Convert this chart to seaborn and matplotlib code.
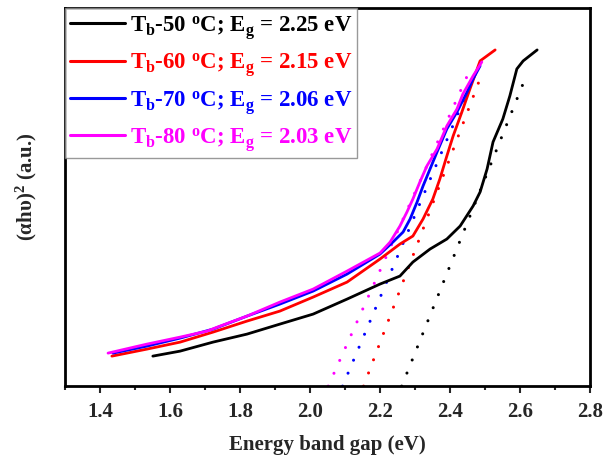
import matplotlib
matplotlib.use("Agg")
import matplotlib.pyplot as plt
import numpy as np
import pandas as pd
import seaborn as sns

# curves, y in arbitrary units
x_50 = [1.551, 1.629, 1.723, 1.820, 1.914, 2.009, 2.106, 2.200, 2.257, 2.294, 2.343,
        2.391, 2.429, 2.466, 2.486, 2.506, 2.523, 2.551, 2.571, 2.591, 2.609, 2.649]
y_50 = [0.30, 0.35, 0.44, 0.52, 0.62, 0.72, 0.87, 1.02, 1.10, 1.24, 1.37,
        1.47, 1.60, 1.80, 1.94, 2.17, 2.44, 2.67, 2.90, 3.17, 3.25, 3.36]

x_60 = [1.434, 1.534, 1.629, 1.723, 1.820, 1.914, 2.009, 2.106, 2.200, 2.257,
        2.294, 2.323, 2.351, 2.371, 2.391, 2.409, 2.434, 2.457, 2.486, 2.529]
y_60 = [0.30, 0.37, 0.44, 0.54, 0.65, 0.75, 0.89, 1.04, 1.27, 1.42,
        1.50, 1.67, 1.87, 2.07, 2.30, 2.50, 2.74, 2.97, 3.25, 3.36]

x_70 = [1.437, 1.534, 1.629, 1.723, 1.820, 1.914, 2.009, 2.106, 2.200, 2.237, 2.266,
        2.286, 2.306, 2.323, 2.343, 2.363, 2.391, 2.420, 2.449, 2.466, 2.486]
y_70 = [0.33, 0.40, 0.48, 0.57, 0.70, 0.82, 0.95, 1.12, 1.32, 1.44, 1.54,
        1.67, 1.84, 2.00, 2.17, 2.34, 2.57, 2.74, 2.94, 3.07, 3.20]

x_80 = [1.423, 1.534, 1.629, 1.706, 1.743, 1.820, 1.914, 2.009, 2.106, 2.200, 2.229,
        2.257, 2.277, 2.294, 2.314, 2.334, 2.363, 2.391, 2.420, 2.437, 2.466, 2.491]
y_80 = [0.33, 0.42, 0.49, 0.55, 0.60, 0.70, 0.84, 0.97, 1.15, 1.33, 1.44,
        1.60, 1.74, 1.87, 2.04, 2.20, 2.37, 2.60, 2.77, 2.92, 3.10, 3.24]

labels = [
    r"T$_\mathregular{b}$-50 $^\mathregular{o}$C; E$_\mathregular{g}$ = 2.25 eV",
    r"T$_\mathregular{b}$-60 $^\mathregular{o}$C; E$_\mathregular{g}$ = 2.15 eV",
    r"T$_\mathregular{b}$-70 $^\mathregular{o}$C; E$_\mathregular{g}$ = 2.06 eV",
    r"T$_\mathregular{b}$-80 $^\mathregular{o}$C; E$_\mathregular{g}$ = 2.03 eV",
]
colors = ["black", "red", "blue", "magenta"]

# tangent (Tauc) fits: x-intercept and upper end point
fit_x0 = [2.262, 2.153, 2.093, 2.052]
fit_x1 = [2.620, 2.491, 2.477, 2.462]
fit_y1 = [3.12, 3.12, 3.17, 3.20]

sns.set_theme(style="ticks")
plt.rcParams["font.family"] = ["Liberation Serif", "DejaVu Serif"]
plt.rcParams["font.weight"] = "bold"
plt.rcParams["mathtext.fontset"] = "custom"
plt.rcParams["mathtext.rm"] = "Liberation Serif:bold"
plt.rcParams["mathtext.it"] = "Liberation Serif:bold"
plt.rcParams["mathtext.bf"] = "Liberation Serif:bold"

curves = pd.concat(
    [
        pd.DataFrame({"x": xs, "y": ys, "series": lab})
        for xs, ys, lab in zip([x_50, x_60, x_70, x_80], [y_50, y_60, y_70, y_80], labels)
    ],
    ignore_index=True,
)
fits = pd.concat(
    [
        pd.DataFrame({"x": [a, b], "y": [0.0, c], "series": lab})
        for a, b, c, lab in zip(fit_x0, fit_x1, fit_y1, labels)
    ],
    ignore_index=True,
)
palette = dict(zip(labels, colors))

fig = plt.figure(figsize=(6.05, 4.56), dpi=100)
ax = fig.add_axes([0.1074, 0.151, 0.8678, 0.8295])

sns.lineplot(data=fits, x="x", y="y", hue="series", palette=palette, ax=ax,
             legend=False, linewidth=2.2, sort=False)
for line in ax.get_lines():
    line.set_linestyle((0, (0.01, 4.6)))
    line.set_dash_capstyle("round")
sns.lineplot(data=curves, x="x", y="y", hue="series", palette=palette, ax=ax,
             linewidth=2, sort=False, estimator=None)

ax.set_xlim(1.3, 2.8)
ax.set_ylim(0, 3.78)
ax.set_xticks(np.arange(1.4, 2.81, 0.2))
ax.set_xticks(np.arange(1.3, 2.81, 0.1), minor=True)
ax.set_xticklabels([f"{v:.1f}" for v in np.arange(1.4, 2.81, 0.2)])
ax.set_yticks([])
ax.tick_params(axis="x", which="major", length=5, width=1.5, labelsize=15, pad=6)
ax.tick_params(axis="x", which="minor", length=3, width=1.5)
for lab in ax.get_xticklabels():
    lab.set_fontweight("bold")
for sp in ax.spines.values():
    sp.set_linewidth(2)
    sp.set_color("black")

ax.set_xlabel("Energy band gap (eV)", fontsize=15, fontweight="bold", labelpad=9)
ax.set_ylabel(r"($\alpha$h$\upsilon$)$^\mathregular{2}$ (a.u.)", fontsize=15,
              fontweight="bold")
ax.yaxis.set_label_coords(-0.05, 0.53)

leg = ax.legend(loc="upper left", borderaxespad=0, fontsize=16.5, frameon=True,
                fancybox=False, handlelength=2.4, handletextpad=0.2,
                labelspacing=0.42, borderpad=0.22)
leg.get_frame().set_edgecolor("gray")
leg.get_frame().set_linewidth(1)
for text, c in zip(leg.get_texts(), colors):
    text.set_color(c)
    text.set_fontweight("bold")
for line in leg.get_lines():
    line.set_linewidth(2.2)

fig.savefig("out.png", dpi=100)
